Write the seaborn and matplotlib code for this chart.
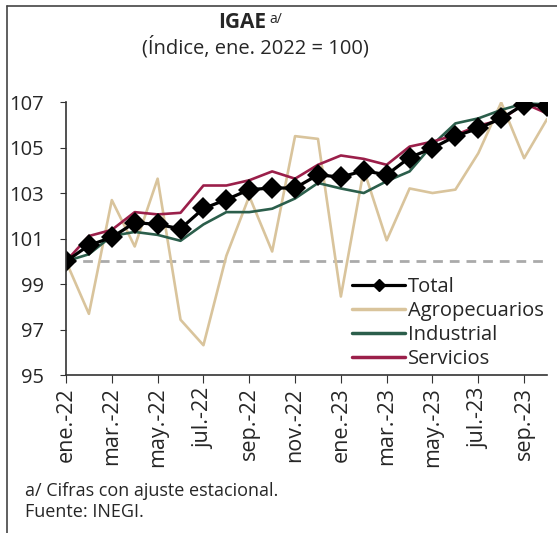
import pandas as pd
import matplotlib.pyplot as plt
import seaborn as sns
from matplotlib.lines import Line2D


# =======================================================
# Data: IGAE index (ene. 2022 = 100), seasonally adjusted
# =======================================================

months = ["ene.-22", "feb.-22", "mar.-22", "abr.-22", "may.-22", "jun.-22",
          "jul.-22", "ago.-22", "sep.-22", "oct.-22", "nov.-22", "dic.-22",
          "ene.-23", "feb.-23", "mar.-23", "abr.-23", "may.-23", "jun.-23",
          "jul.-23", "ago.-23", "sep.-23", "oct.-23"]

total = [100.0, 100.7, 101.05, 101.7, 101.62, 101.43, 102.32, 102.71, 103.15, 103.22,
         103.22, 103.8, 103.7, 103.98, 103.8, 104.56, 104.97, 105.5, 105.84, 106.28,
         106.89, 106.83]
agro = [100.0, 97.69, 102.69, 100.65, 103.63, 97.43, 96.31, 100.24, 102.86, 100.43,
        105.5, 105.38, 98.45, 104.03, 100.92, 103.2, 103.0, 103.15, 104.75, 106.98,
        104.53, 106.25]
industrial = [100.0, 100.31, 101.11, 101.29, 101.16, 100.9, 101.62, 102.16, 102.16, 102.31,
              102.76, 103.44, 103.2, 103.0, 103.52, 103.95, 105.12, 106.06, 106.28, 106.65,
              106.94, 106.9]
servicios = [100.0, 101.11, 101.38, 102.16, 102.06, 102.13, 103.33, 103.33, 103.56, 103.95,
             103.63, 104.24, 104.65, 104.5, 104.24, 105.04, 105.26, 105.55, 105.96, 106.21,
             106.94, 106.5]

df = pd.DataFrame({"mes": range(len(months)), "Total": total, "Agropecuarios": agro,
                   "Industrial": industrial, "Servicios": servicios})

colors = {"Total": "black", "Agropecuarios": "#d9c49c",
          "Industrial": "#2b5e4b", "Servicios": "#9b1f4a"}

# =======================================================
# Plot
# =======================================================

sns.set_style("ticks")
plt.rcParams['font.family'] = ['Open Sans', 'DejaVu Sans']

fig = plt.figure(figsize=(5.57, 5.33), dpi=100)
ax = fig.add_axes([0.1185, 0.2964, 0.8636, 0.5122])

# reference line at 100
ax.axhline(100, color="#aaaaaa", lw=2, ls=(0, (3.5, 2.5)), zorder=1)

sns.lineplot(data=df, x="mes", y="Agropecuarios", color=colors["Agropecuarios"], lw=1.9, ax=ax)
sns.lineplot(data=df, x="mes", y="Industrial", color=colors["Industrial"], lw=1.9, ax=ax)
sns.lineplot(data=df, x="mes", y="Servicios", color=colors["Servicios"], lw=1.9, ax=ax)
sns.lineplot(data=df, x="mes", y="Total", color=colors["Total"], lw=2.3,
             marker="D", markersize=11.5, markeredgewidth=0, ax=ax)

ax.set_xlim(0, len(months) - 1)
ax.set_ylim(95, 107)
ax.set_yticks(range(95, 108, 2))
ax.set_xticks(range(0, len(months), 2))
ax.set_xticklabels(months[::2], rotation=90)
ax.set_xlabel("")
ax.set_ylabel("")
ax.tick_params(axis="y", labelsize=14.5, length=4, pad=12, color="#333333")
ax.tick_params(axis="x", labelsize=15.5, length=6, pad=3, color="#333333")
sns.despine(ax=ax)
ax.spines["left"].set_color("#333333")
ax.spines["bottom"].set_color("#333333")
ax.spines["left"].set_linewidth(1.2)
ax.spines["bottom"].set_linewidth(1.2)

handles = [Line2D([], [], color=colors["Total"], lw=2.3, marker="D", markersize=6),
           Line2D([], [], color=colors["Agropecuarios"], lw=2.5),
           Line2D([], [], color=colors["Industrial"], lw=2.5),
           Line2D([], [], color=colors["Servicios"], lw=2.5)]
ax.legend(handles, ["Total", "Agropecuarios", "Industrial", "Servicios"],
          loc="upper left", bbox_to_anchor=((352 - 66) / 481, 0.359), frameon=False,
          fontsize=14.5, handlelength=2.63, handletextpad=0.15, labelspacing=0.2,
          borderaxespad=0, borderpad=0)

# titles
fig.text(266 / 557, 1 - 12 / 533, "IGAE", ha="right", va="top", fontsize=15, fontweight="bold")
fig.text(269 / 557, 1 - 12 / 533, "a/", ha="left", va="top", fontsize=10)
fig.text(255 / 557, 1 - 47 / 533, "(Índice, ene. 2022 = 100)", ha="center", va="center", fontsize=14.5)

# notes
fig.text(25 / 557, 1 - 491 / 533, "a/ Cifras con ajuste estacional.", ha="left", va="center", fontsize=13)
fig.text(25 / 557, 1 - 512 / 533, "Fuente: INEGI.", ha="left", va="center", fontsize=13)

# partial frame (top and left edges)
fig.add_artist(Line2D([6.5 / 557, 1], [1 - 5.5 / 533, 1 - 5.5 / 533], transform=fig.transFigure,
                      color="#444444", lw=1.2))
fig.add_artist(Line2D([6.5 / 557, 6.5 / 557], [0, 1 - 5.5 / 533], transform=fig.transFigure,
                      color="#444444", lw=1.2))

plt.savefig("out.png", dpi=100)
